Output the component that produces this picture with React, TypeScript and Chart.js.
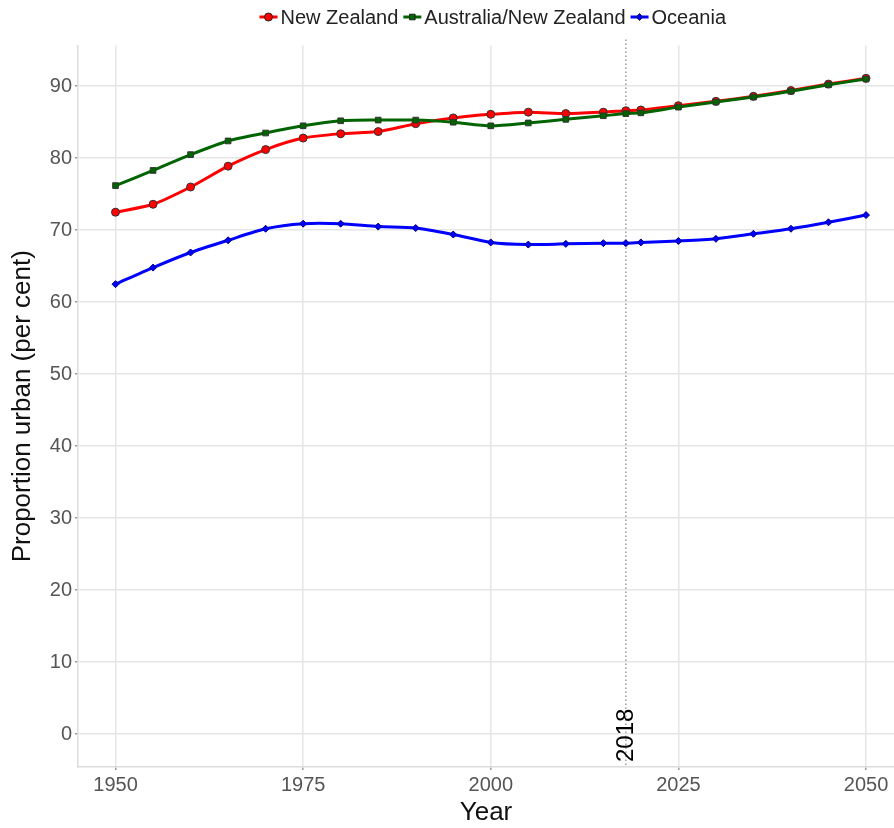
import React, { useEffect, useRef } from "react";
import { Chart, registerables } from "chart.js";

Chart.register(...registerables);

const years = [1950, 1955, 1960, 1965, 1970, 1975, 1980, 1985, 1990, 1995, 2000, 2005, 2010, 2015, 2018, 2020, 2025, 2030, 2035, 2040, 2045, 2050];
const newZealand = [72.5, 73.6, 76.0, 78.9, 81.2, 82.8, 83.4, 83.7, 84.8, 85.6, 86.1, 86.4, 86.2, 86.4, 86.6, 86.7, 87.3, 87.9, 88.6, 89.4, 90.3, 91.1];
const ausNz = [76.2, 78.3, 80.5, 82.4, 83.5, 84.5, 85.2, 85.3, 85.3, 85.0, 84.5, 84.9, 85.4, 85.9, 86.2, 86.3, 87.1, 87.8, 88.5, 89.3, 90.2, 91.0];
const oceania = [62.5, 64.8, 66.9, 68.6, 70.2, 70.9, 70.9, 70.5, 70.3, 69.4, 68.3, 68.0, 68.1, 68.2, 68.2, 68.3, 68.5, 68.8, 69.5, 70.2, 71.1, 72.1];
const seriesNames = ["New Zealand", "Australia/New Zealand", "Oceania"];
const xTicks = [1950, 1975, 2000, 2025, 2050];
const yTicks = [0, 10, 20, 30, 40, 50, 60, 70, 80, 90];
const markYear = 2018;
const markLabel = "2018";

const FONT = "'Liberation Sans', Arial, sans-serif";
const colors = ["#ff0000", "#006400", "#0000ff"];
const styles = ["circle", "rect", "rectRot"];

function drawMarker(ctx: CanvasRenderingContext2D, style: string, x: number, y: number, color: string) {
  ctx.save();
  ctx.fillStyle = color;
  ctx.strokeStyle = "#222";
  ctx.lineWidth = 1;
  ctx.beginPath();
  if (style === "circle") {
    ctx.arc(x, y, 4, 0, Math.PI * 2);
  } else if (style === "rect") {
    ctx.rect(x - 2.8, y - 2.8, 5.6, 5.6);
  } else {
    ctx.moveTo(x, y - 3.5);
    ctx.lineTo(x + 3.5, y);
    ctx.lineTo(x, y + 3.5);
    ctx.lineTo(x - 3.5, y);
    ctx.closePath();
  }
  ctx.fill();
  ctx.stroke();
  ctx.restore();
}

const overlayPlugin = {
  id: "overlay",
  beforeDatasetsDraw(chart: any) {
    const { ctx, chartArea, scales } = chart;
    const x = scales.x.getPixelForValue(markYear);
    ctx.save();
    ctx.strokeStyle = "#9a9a9a";
    ctx.lineWidth = 1.5;
    ctx.setLineDash([1.5, 2.5]);
    ctx.beginPath();
    ctx.moveTo(x, chartArea.top - 6);
    ctx.lineTo(x, chartArea.bottom);
    ctx.stroke();
    ctx.restore();
  },
  afterDraw(chart: any) {
    const { ctx, chartArea, scales } = chart;
    const x = scales.x.getPixelForValue(markYear);
    // 2018 label
    ctx.save();
    ctx.translate(x, chartArea.bottom - 5);
    ctx.rotate(-Math.PI / 2);
    ctx.font = `24px ${FONT}`;
    ctx.fillStyle = "#000";
    ctx.textAlign = "left";
    ctx.textBaseline = "middle";
    ctx.fillText(markLabel, 0, 1);
    ctx.restore();

    // legend
    ctx.save();
    ctx.font = `20px ${FONT}`;
    const lineW = 18;
    const gap = 3;
    const itemGap = 5;
    const widths = seriesNames.map((n) => ctx.measureText(n).width);
    const total = widths.reduce((a, w) => a + lineW + gap + w, 0) + itemGap * (seriesNames.length - 1);
    const center = (chartArea.left + scales.x.getPixelForValue(2055)) / 2 + 2;
    let cx = center - total / 2;
    const cy = 17;
    seriesNames.forEach((name, i) => {
      ctx.strokeStyle = colors[i];
      ctx.lineWidth = 3;
      ctx.beginPath();
      ctx.moveTo(cx, cy);
      ctx.lineTo(cx + lineW, cy);
      ctx.stroke();
      drawMarker(ctx, styles[i], cx + lineW / 2, cy, colors[i]);
      ctx.fillStyle = "#222";
      ctx.textAlign = "left";
      ctx.textBaseline = "middle";
      ctx.fillText(name, cx + lineW + gap, cy + 1);
      cx += lineW + gap + widths[i] + itemGap;
    });
    ctx.restore();
  },
};

export default function App() {
  const ref = useRef<HTMLCanvasElement | null>(null);
  useEffect(() => {
    document.body.style.margin = "0";
    const canvas = ref.current;
    if (!canvas) return;
    const mk = (vals: number[]) => years.map((y, i) => ({ x: y, y: vals[i] }));
    const chart = new Chart(canvas, {
      type: "line",
      data: {
        datasets: [
          {
            label: seriesNames[0],
            data: mk(newZealand),
            borderColor: colors[0],
            backgroundColor: colors[0],
            borderWidth: 3,
            pointStyle: "circle",
            pointRadius: 4,
            pointBorderColor: "#333",
            pointBorderWidth: 1,
            pointBackgroundColor: colors[0],
            tension: 0.25,
            order: 1,
          },
          {
            label: seriesNames[1],
            data: mk(ausNz),
            borderColor: colors[1],
            backgroundColor: colors[1],
            borderWidth: 3,
            pointStyle: "rect",
            pointRadius: 4,
            pointBorderColor: "#333",
            pointBorderWidth: 1,
            pointBackgroundColor: colors[1],
            tension: 0.25,
            order: 0,
          },
          {
            label: seriesNames[2],
            data: mk(oceania),
            borderColor: colors[2],
            backgroundColor: colors[2],
            borderWidth: 3,
            pointStyle: "rectRot",
            pointRadius: 3.5,
            pointBorderColor: "#00007a",
            pointBorderWidth: 1,
            pointBackgroundColor: colors[2],
            tension: 0.25,
            order: 2,
          },
        ],
      },
      options: {
        responsive: false,
        animation: false,
        layout: { autoPadding: false, padding: { top: 45.5, left: 0, right: 0, bottom: 0 } },
        plugins: {
          legend: { display: false },
          tooltip: { enabled: false },
        },
        scales: {
          x: {
            type: "linear",
            min: 1945,
            max: 2053.73,
            afterBuildTicks: (scale: any) => {
              scale.ticks = xTicks.map((v) => ({ value: v }));
            },
            afterFit: (scale: any) => {
              scale.height = 61;
              scale.paddingLeft = 0;
              scale.paddingRight = 0;
            },
            ticks: {
              autoSkip: false,
              maxRotation: 0,
              padding: 3,
              color: "#555",
              font: { family: FONT, size: 20 },
              callback: (v: any) => String(v),
            },
            grid: {
              color: "#e6e6e6",
              lineWidth: 1.5,
              tickLength: 3,
              tickColor: "#999",
            },
            border: { color: "#dcdcdc", width: 1.5 },
            title: {
              display: true,
              text: "Year",
              color: "#111",
              font: { family: FONT, size: 26 },
              padding: { top: 0, bottom: 0 },
            },
          },
          y: {
            type: "linear",
            min: -4.58,
            max: 95.66,
            afterBuildTicks: (scale: any) => {
              scale.ticks = yTicks.map((v) => ({ value: v }));
            },
            afterFit: (scale: any) => {
              scale.width = 78;
              scale.paddingTop = 0;
              scale.paddingBottom = 0;
            },
            ticks: {
              padding: 3,
              color: "#555",
              font: { family: FONT, size: 20 },
              callback: (v: any) => String(v),
            },
            grid: {
              color: "#e6e6e6",
              lineWidth: 1.5,
              tickLength: 3,
              tickColor: "#999",
            },
            border: { color: "#dcdcdc", width: 1.5 },
            title: {
              display: true,
              text: "Proportion urban (per cent)",
              color: "#111",
              font: { family: FONT, size: 26 },
              padding: { top: 7, bottom: 0 },
            },
          },
        },
      },
      plugins: [overlayPlugin],
    });
    return () => chart.destroy();
  }, []);
  return (
    <div style={{ width: 894, height: 828 }}>
      <canvas ref={ref} width={894} height={828} style={{ display: "block" }} />
    </div>
  );
}
